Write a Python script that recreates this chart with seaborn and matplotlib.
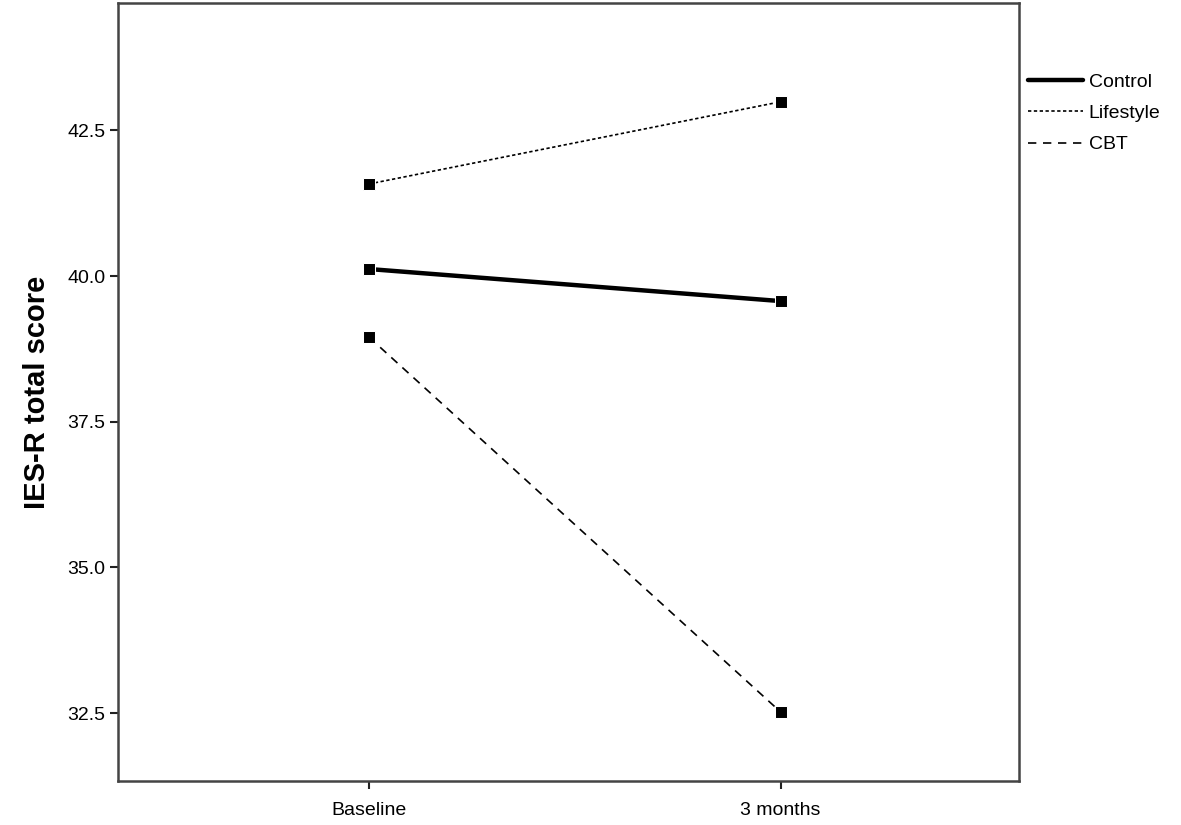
import pandas as pd
import matplotlib
matplotlib.use("Agg")
import matplotlib.pyplot as plt
import seaborn as sns

# Data
timepoints = ["Baseline", "3 months"]
groups = ["Control", "Lifestyle", "CBT"]
control = [40.12, 39.57]
lifestyle = [41.58, 42.99]
cbt = [38.95, 32.52]

rows = []
for g, vals in zip(groups, [control, lifestyle, cbt]):
    for t, v in zip(timepoints, vals):
        rows.append({"Time": t, "Group": g, "Score": v})
df = pd.DataFrame(rows)

sns.set_style("white")
plt.rcParams["font.family"] = ["Liberation Sans", "DejaVu Sans"]
plt.rcParams["text.color"] = "black"
plt.rcParams["axes.labelcolor"] = "black"
plt.rcParams["xtick.color"] = "black"
plt.rcParams["ytick.color"] = "black"

fig = plt.figure(figsize=(11.81, 8.25), dpi=100)
ax = fig.add_axes([0.1, 0.053, 0.763, 0.943])

sns.lineplot(
    data=df, x="Time", y="Score", hue="Group", style="Group",
    hue_order=groups, style_order=groups,
    palette=["black", "black", "black"],
    dashes={"Control": "", "Lifestyle": (2, 1.5), "CBT": (5, 4)},
    markers={"Control": "s", "Lifestyle": "s", "CBT": "s"},
    markersize=8, sort=False, ax=ax, legend=True,
)

# line widths: control thick, others thin
for line, lw in zip(ax.lines[:3], [3.2, 1.2, 1.2]):
    line.set_linewidth(lw)

ax.set_xlim(-0.61, 1.58)
ax.set_ylim(31.33, 44.68)
ax.set_yticks([32.5, 35.0, 37.5, 40.0, 42.5])
ax.set_yticklabels(["32.5", "35.0", "37.5", "40.0", "42.5"])
ax.tick_params(axis="both", labelsize=14, length=6, width=1.5, color="#222222",
               direction="out", left=True, bottom=True)
ax.tick_params(axis="x", pad=9)
ax.tick_params(axis="y", pad=3)
ax.set_xlabel("")
ax.set_ylabel("IES-R total score", fontsize=21, fontweight="bold", labelpad=12)

for s in ax.spines.values():
    s.set_color("#444444")
    s.set_linewidth(1.8)

handles, labels = ax.get_legend_handles_labels()
for h, lw in zip(handles, [3.2, 1.2, 1.2]):
    h.set_linewidth(lw)
    h.set_marker("")
ax.legend(handles, labels, loc="upper left", bbox_to_anchor=(0.993, 0.93),
          frameon=False, fontsize=14, handlelength=2.8, handletextpad=0.3,
          labelspacing=0.7, borderaxespad=0.4)

fig.savefig("out.png", dpi=100)
